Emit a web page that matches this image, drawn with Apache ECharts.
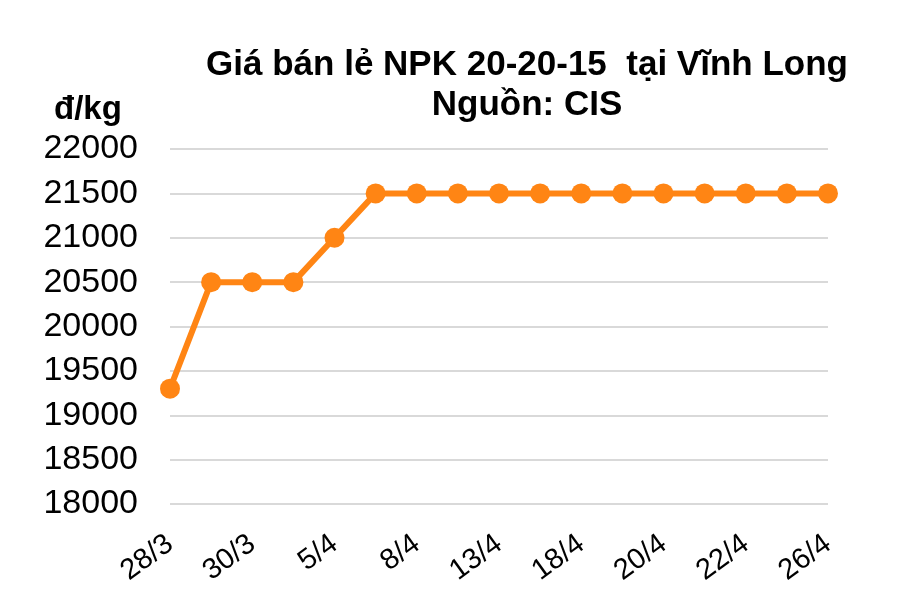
<!DOCTYPE html>
<html><head><meta charset="utf-8">
<script src="https://cdn.jsdelivr.net/npm/echarts@6/dist/echarts.min.js"></script>
<style>html,body{margin:0;padding:0;background:#fff}#c{width:900px;height:611px}</style>
</head><body><div id="c"></div>
<script>
const categories = ['28/3','29/3','30/3','3/4','5/4','6/4','8/4','12/4','13/4','15/4','18/4','19/4','20/4','21/4','22/4','25/4','26/4'];
const prices = [19300,20500,20500,20500,21000,21500,21500,21500,21500,21500,21500,21500,21500,21500,21500,21500,21500];
const yTicks = {min:18000, max:22000, interval:500};
const titleText = 'Giá bán lẻ NPK 20-20-15  tại Vĩnh Long\nNguồn: CIS';
const unitText = 'đ/kg';

const chart = echarts.init(document.getElementById('c'));
chart.setOption({
  backgroundColor:'#fff',
  animation:false,
  title:[{
    text: titleText,
    left: 522, top: 40, textAlign:'center',
    textStyle:{fontFamily:'Liberation Sans', fontWeight:'bold', fontSize:35, color:'#000', lineHeight:40}
  },{
    text: unitText, left: 49, top: 88,
    textStyle:{fontFamily:'Liberation Sans', fontWeight:'bold', fontSize:33, color:'#000'}
  }],
  grid:{left:170, right:72, top:149, bottom:107},
  xAxis:{
    type:'category', data:categories, boundaryGap:false,
    axisLine:{show:false}, axisTick:{show:false},
    axisLabel:{interval:1, rotate:36, margin:37, fontFamily:'Liberation Sans', fontSize:29, color:'#000'},
    splitLine:{show:false}
  },
  yAxis:{
    type:'value', min:yTicks.min, max:yTicks.max, interval:yTicks.interval,
    axisLine:{show:false}, axisTick:{show:false},
    axisLabel:{margin:32, fontFamily:'Liberation Sans', fontSize:34, color:'#000', formatter: v => String(v)},
    splitLine:{lineStyle:{color:'#d9d9d9', width:2}}
  },
  series:[{
    type:'line', data:prices,
    symbol:'circle', symbolSize:20,
    lineStyle:{color:'#FF8514', width:6},
    itemStyle:{color:'#FF8514'}
  }]
});
</script></body></html>
